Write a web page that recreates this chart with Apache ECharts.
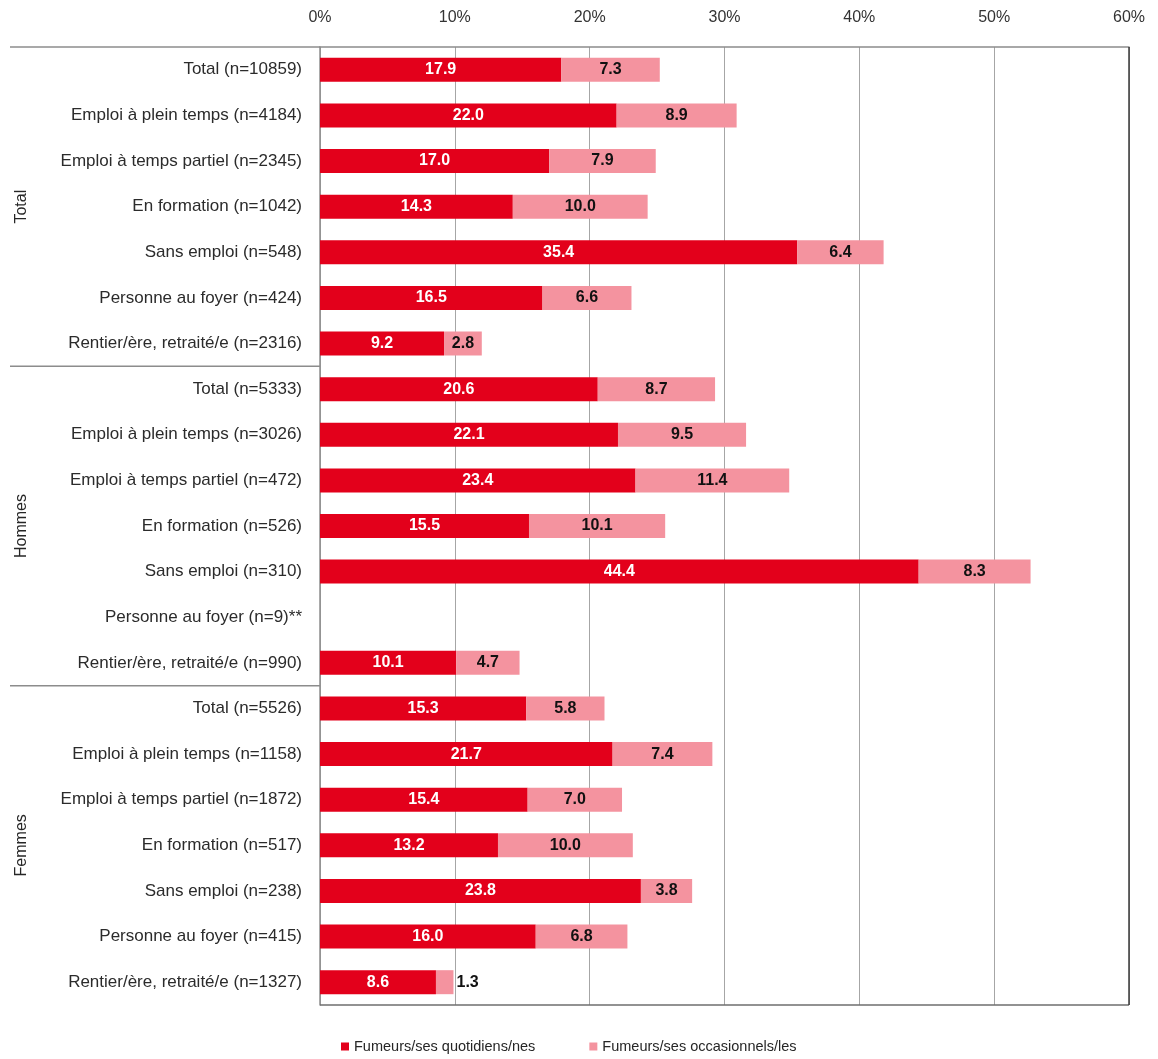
<!DOCTYPE html>
<html>
<head>
<meta charset="utf-8">
<script src="https://cdn.jsdelivr.net/npm/echarts@6/dist/echarts.min.js"></script>
<style>
  html, body { margin: 0; padding: 0; background: #fff; }
  #chart { width: 1158px; height: 1059px; }
</style>
</head>
<body>
<div id="chart"></div>
<script>
// Row labels, top to bottom, grouped as Total / Hommes / Femmes
const groups = ['Total', 'Hommes', 'Femmes'];
const categories = [
  'Total (n=10859)', 'Emploi à plein temps (n=4184)', 'Emploi à temps partiel (n=2345)',
  'En formation (n=1042)', 'Sans emploi (n=548)', 'Personne au foyer (n=424)',
  'Rentier/ère, retraité/e (n=2316)',
  'Total (n=5333)', 'Emploi à plein temps (n=3026)', 'Emploi à temps partiel (n=472)',
  'En formation (n=526)', 'Sans emploi (n=310)', 'Personne au foyer (n=9)**',
  'Rentier/ère, retraité/e (n=990)',
  'Total (n=5526)', 'Emploi à plein temps (n=1158)', 'Emploi à temps partiel (n=1872)',
  'En formation (n=517)', 'Sans emploi (n=238)', 'Personne au foyer (n=415)',
  'Rentier/ère, retraité/e (n=1327)'
];
const rowsPerGroup = 7;

// Share of smokers, in percent
const dailySmokers = [
  17.9, 22.0, 17.0, 14.3, 35.4, 16.5, 9.2,
  20.6, 22.1, 23.4, 15.5, 44.4, null, 10.1,
  15.3, 21.7, 15.4, 13.2, 23.8, 16.0, 8.6
];
const occasionalSmokers = [
  7.3, 8.9, 7.9, 10.0, 6.4, 6.6, 2.8,
  8.7, 9.5, 11.4, 10.1, 8.3, null, 4.7,
  5.8, 7.4, 7.0, 10.0, 3.8, 6.8, 1.3
];
const xTicks = [0, 10, 20, 30, 40, 50, 60];

const seriesNames = ['Fumeurs/ses quotidiens/nes', 'Fumeurs/ses occasionnels/les'];
const RED = '#e3001b';
const PINK = '#f4939f';
const FONT = '"Liberation Sans", Arial, sans-serif';

const chart = echarts.init(document.getElementById('chart'), null, { renderer: 'canvas' });

// Occasional bars too narrow for their label get it placed to the right
const occData = occasionalSmokers.map(v => {
  if (v === null) return { value: null };
  if (v < 2) {
    return { value: v, label: { position: 'right', distance: 3 } };
  }
  return { value: v };
});

chart.setOption({
  animation: false,
  textStyle: { fontFamily: FONT },
  grid: { left: 320, right: 29, top: 47, bottom: 54, containLabel: false },
  xAxis: {
    type: 'value',
    position: 'top',
    min: xTicks[0],
    max: xTicks[xTicks.length - 1],
    interval: 10,
    axisLine: { show: true, lineStyle: { color: '#8c8c8c', width: 1.5 } },
    axisTick: { show: false },
    axisLabel: {
      formatter: v => v + '%',
      color: '#333',
      fontSize: 16,
      margin: 21,
      fontFamily: FONT
    },
    splitLine: { show: true, lineStyle: { color: '#a6a6a6', width: 1 } }
  },
  yAxis: {
    type: 'category',
    data: categories,
    inverse: true,
    axisLine: { show: true, lineStyle: { color: '#8c8c8c', width: 1.5 } },
    axisTick: { show: false },
    axisLabel: {
      color: '#2b2b2b',
      fontSize: 17,
      margin: 18,
      fontFamily: FONT
    }
  },
  legend: {
    bottom: 0,
    left: 336,
    itemWidth: 8,
    itemHeight: 8,
    itemGap: 54,
    icon: 'rect',
    textStyle: { color: '#262626', fontSize: 14.5, fontFamily: FONT },
    data: seriesNames
  },
  series: [
    {
      name: seriesNames[0],
      type: 'bar',
      stack: 'smokers',
      barWidth: 24,
      data: dailySmokers,
      itemStyle: { color: RED },
      label: {
        show: true,
        position: 'inside',
        color: '#fff',
        fontWeight: 'bold',
        fontSize: 16,
        fontFamily: FONT,
        formatter: p => (p.value == null ? '' : Number(p.value).toFixed(1))
      }
    },
    {
      name: seriesNames[1],
      type: 'bar',
      stack: 'smokers',
      barWidth: 24,
      data: occData,
      itemStyle: { color: PINK },
      label: {
        show: true,
        position: 'inside',
        color: '#111',
        fontWeight: 'bold',
        fontSize: 16,
        fontFamily: FONT,
        formatter: p => (p.value == null ? '' : Number(p.value).toFixed(1))
      }
    }
  ]
});

// Frame pieces and group labels, placed from the axis scales
function drawFrame() {
  const xLeft = chart.convertToPixel({ xAxisIndex: 0 }, xTicks[0]);
  const xRight = chart.convertToPixel({ xAxisIndex: 0 }, xTicks[xTicks.length - 1]);
  const rowTop = i => {
    const a = chart.convertToPixel({ yAxisIndex: 0 }, i);
    const b = chart.convertToPixel({ yAxisIndex: 0 }, i + 1);
    return a - (b - a) / 2;
  };
  const n = categories.length;
  const yBottom = rowTop(n);
  const outerLeft = 10;
  const elements = [];

  // Bottom border and right border of the plot
  elements.push({
    type: 'line', silent: true, z: 10,
    shape: { x1: xLeft, y1: yBottom, x2: xRight, y2: yBottom },
    style: { stroke: '#6e6e6e', lineWidth: 1.5 }
  });
  elements.push({
    type: 'line', silent: true, z: 10,
    shape: { x1: xRight, y1: rowTop(0), x2: xRight, y2: yBottom },
    style: { stroke: '#3a3a3a', lineWidth: 1.5 }
  });

  groups.forEach((g, gi) => {
    const y0 = rowTop(gi * rowsPerGroup);
    const y1 = rowTop((gi + 1) * rowsPerGroup);
    // Separator line across the label column at the top of each group
    elements.push({
      type: 'line', silent: true, z: 10,
      shape: { x1: outerLeft, y1: y0, x2: xLeft, y2: y0 },
      style: { stroke: '#8c8c8c', lineWidth: 1.5 }
    });
    elements.push({
      type: 'text', silent: true, z: 10,
      x: 22, y: (y0 + y1) / 2,
      rotation: Math.PI / 2,
      style: {
        text: g, fill: '#262626', fontSize: 16, fontFamily: FONT,
        align: 'center', verticalAlign: 'middle'
      }
    });
  });

  chart.setOption({ graphic: elements });
}
drawFrame();
</script>
</body>
</html>
